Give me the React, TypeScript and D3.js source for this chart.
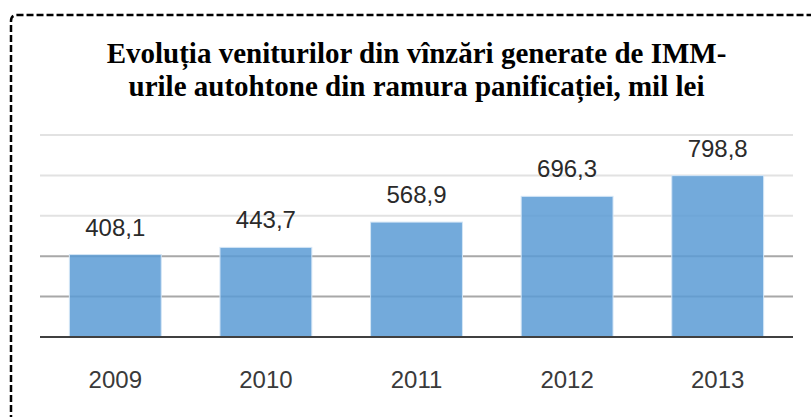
import React, { useEffect } from "react";
import * as d3 from "d3";

const years = ["2009", "2010", "2011", "2012", "2013"];
const revenues = [408.1, 443.7, 568.9, 696.3, 798.8];
const revenueLabels = ["408,1", "443,7", "568,9", "696,3", "798,8"];
const yTicks = [0, 200, 400, 600, 800, 1000];
const titleLines = [
  "Evoluția veniturilor din vînzări generate de IMM-",
  "urile autohtone din ramura panificației, mil lei",
];

const W = 811;
const H = 417;
const plot = { left: 40, right: 793, top: 135, bottom: 337 };

export default function App() {
  useEffect(() => {
    document.body.style.margin = "0";
  }, []);

  const x = d3
    .scaleBand<string>()
    .domain(years)
    .range([plot.left, plot.right])
    .paddingInner(0.39)
    .paddingOuter(0.195);
  const y = d3.scaleLinear().domain([0, 1000]).range([plot.bottom, plot.top]);

  const borderPath = `M11,${H + 5} L11,21 Q11,15 17,15 L${W + 5},15`;

  return (
    <svg width={W} height={H} style={{ display: "block", background: "#fff" }}>
      <path d={borderPath} fill="none" stroke="#000" strokeWidth={2.5} strokeDasharray="7 3" />
      {titleLines.map((t, i) => (
        <text
          key={i}
          x={416.5}
          y={63 + i * 33}
          textAnchor="middle"
          fontFamily="'Liberation Serif', 'Times New Roman', serif"
          fontWeight="bold"
          fontSize={29}
          fill="#000"
        >
          {t}
        </text>
      ))}
      {yTicks
        .filter((v) => v > 0)
        .map((v) => (
          <line
            key={v}
            x1={plot.left}
            x2={plot.right}
            y1={y(v)}
            y2={y(v)}
            stroke={v <= 400 ? "#a8a8a8" : "#e2e2e2"}
            strokeWidth={2}
          />
        ))}
      {years.map((yr, i) => (
        <g key={yr}>
          <rect
            x={x(yr)}
            y={y(revenues[i])}
            width={x.bandwidth()}
            height={y(0) - y(revenues[i])}
            fill="#5b9bd5"
            fillOpacity={0.85}
            stroke="#d4e6f6"
            strokeWidth={1}
          />
          <text
            x={(x(yr) as number) + x.bandwidth() / 2}
            y={y(revenues[i]) - 19}
            textAnchor="middle"
            fontFamily="'Liberation Sans', Arial, sans-serif"
            fontSize={24}
            fill="#2a2a2a"
          >
            {revenueLabels[i]}
          </text>
          <text
            x={(x(yr) as number) + x.bandwidth() / 2}
            y={388}
            textAnchor="middle"
            fontFamily="'Liberation Sans', Arial, sans-serif"
            fontSize={24}
            fill="#3a3a3a"
          >
            {yr}
          </text>
        </g>
      ))}
      <line x1={plot.left} x2={plot.right} y1={y(0)} y2={y(0)} stroke="#404040" strokeWidth={2} />
    </svg>
  );
}
